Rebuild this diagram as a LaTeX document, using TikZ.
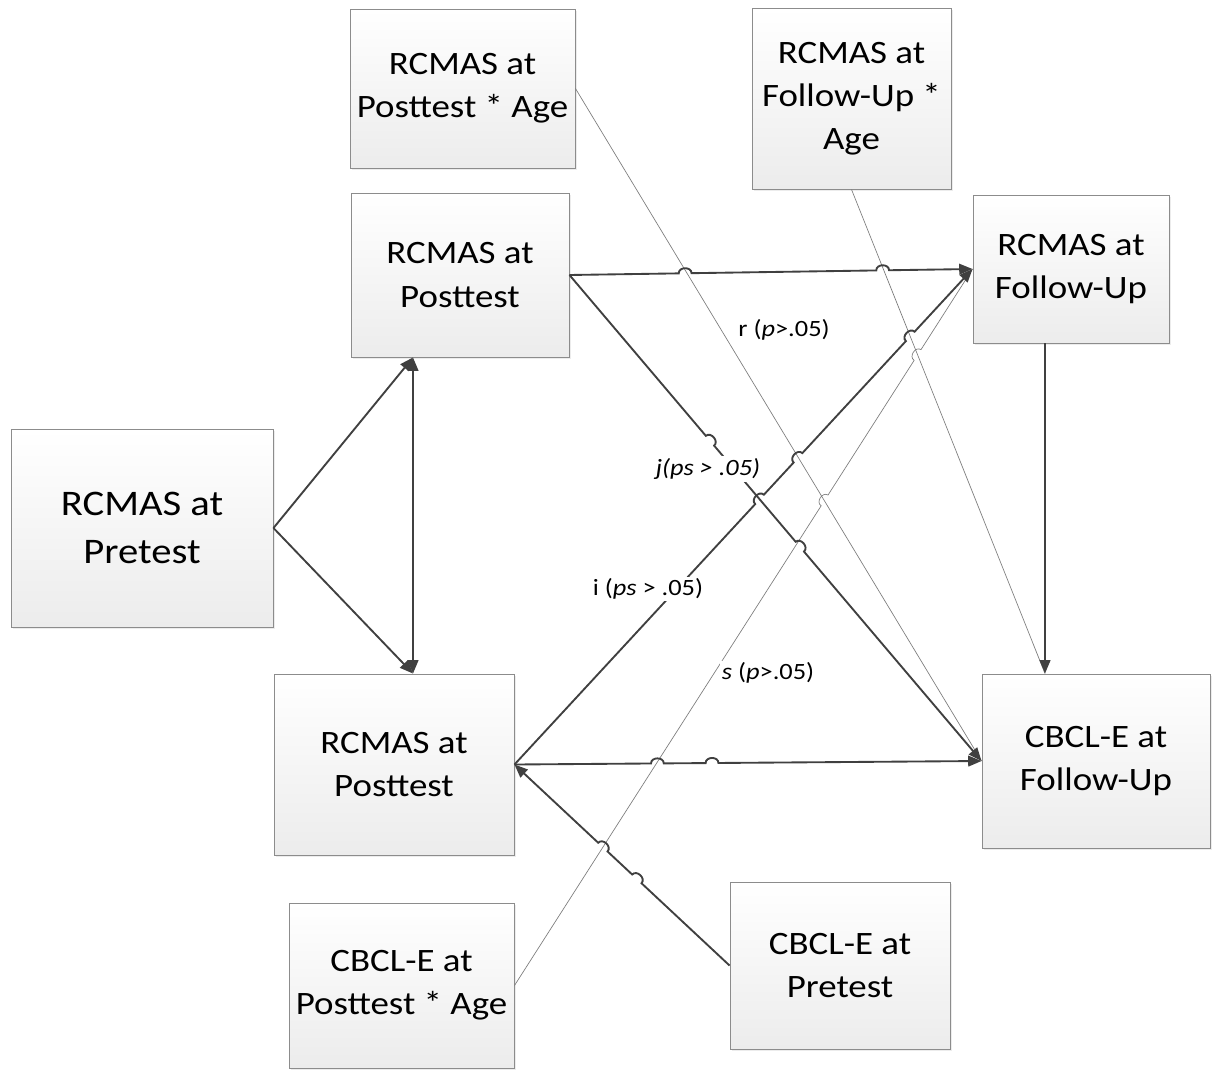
\documentclass[tikz,border=0pt]{standalone}
\usepackage{fontspec}
\setmainfont{Carlito}[FakeStretch=1.13]
\usetikzlibrary{calc,arrows.meta,shadows}

\definecolor{linec}{HTML}{404040}
\definecolor{faintc}{HTML}{7C7C7C}
\definecolor{boxline}{HTML}{8C8C8C}
\definecolor{boxbot}{HTML}{ECECEC}

% radius of the small line jumps where connectors cross
\def\hr{4.8pt}
% a jump on the straight line from #1 to #2, at fraction #3 of its length
\newcommand\hopL[3]{-- ($(#1)!#3!(#2)!\hr!(#1)$) to[bend left=90,looseness=1.35] ($(#1)!#3!(#2)!\hr!(#2)$)}
\newcommand\hopR[3]{-- ($(#1)!#3!(#2)!\hr!(#1)$) to[bend right=90,looseness=1.35] ($(#1)!#3!(#2)!\hr!(#2)$)}

\begin{document}
\begin{tikzpicture}[x=0.75pt,y=-0.75pt,
  >={Triangle[length=10pt,width=8pt]},
  box/.style={draw=boxline, line width=0.7pt, top color=white, bottom color=boxbot,
    align=center, inner sep=0pt, font=\fontsize{24.5}{32.3}\selectfont,
    drop shadow={shadow xshift=1.2pt, shadow yshift=-1.2pt, opacity=0.15}},
  sz/.style 2 args={minimum width=#1*0.75pt, minimum height=#2*0.75pt},
  conn/.style={draw=linec, line width=1.4pt},
  faint/.style={draw=faintc, line width=0.5pt},
  lab/.style={fill=white, inner sep=1.5pt, font=\fontsize{17.5}{20}\selectfont}]

\useasboundingbox (0,0) rectangle (1212,1070);
\fill[white] (0,0) rectangle (1212,1070);

% boxes
\node[box, sz={225}{159}] (A) at (462.5,88.5) {RCMAS at\\Posttest * Age};
\node[box, sz={199}{181}] (B) at (851.5,98.5) {RCMAS at\\Follow-Up *\\Age};
\node[box, sz={218}{164}] (C) at (460,275) {RCMAS at\\Posttest};
\node[box, sz={196}{148}] (D) at (1071,269) {RCMAS at\\Follow-Up};
\node[box, sz={262}{198}, font=\fontsize{27}{36}\selectfont] (E) at (142,528) {RCMAS at\\Pretest};
\node[box, sz={240}{181}] (F) at (394,764.5) {RCMAS at\\Posttest};
\node[box, sz={228}{174}] (G) at (1096,761) {CBCL-E at\\Follow-Up};
\node[box, sz={220}{167}] (H) at (840,965.5) {CBCL-E at\\Pretest};
\node[box, sz={225}{165}] (I) at (401.5,985.5) {CBCL-E at\\Posttest * Age};

% x positions of the two vertical connectors
\coordinate (cf) at (413,0);
\coordinate (vx) at (1045,0);

% thin interaction paths
\draw[faint] (A.east) -- (G.west);
\draw[faint] (B.south) -- (G.north -| vx);
\draw[faint] (I.east) \hopL{I.east}{D.west}{0.677} \hopL{I.east}{D.west}{0.880} -- (D.west);

% main paths
\draw[conn,->] (E.east) -- (C.south -| cf);
\draw[conn,->] (E.east) -- (F.north -| cf);
\draw[conn,<->] (C.south -| cf) -- (F.north -| cf);
\draw[conn,->] (C.east) \hopL{C.east}{D.west}{0.287} \hopL{C.east}{D.west}{0.777} -- (D.west);
\draw[conn,->] (C.east) \hopL{C.east}{G.west}{0.341} \hopL{C.east}{G.west}{0.559} -- (G.west);
\draw[conn,->] (F.east) \hopL{F.east}{D.west}{0.535} \hopL{F.east}{D.west}{0.619} \hopL{F.east}{D.west}{0.864} -- (D.west);
\draw[conn,->] (F.east) \hopL{F.east}{G.west}{0.306} \hopL{F.east}{G.west}{0.423} -- (G.west);
\draw[conn,->] (H.west) \hopR{H.west}{F.east}{0.431} \hopR{H.west}{F.east}{0.589} -- (F.east);
\draw[conn,->] (D.south -| vx) -- (G.north -| vx);

% path labels
\node[lab] (lr) at (784,330) {r (\textit{p}>.05)};
\node[lab] (lj) at (708,469) {\textit{j(ps > .05)}};
\node[lab] (li) at (648,589) {i (\textit{ps} > .05)};
\node[lab] (ls) at (768,673) {\textit{s} (\textit{p}>.05)};

\end{tikzpicture}
\end{document}
